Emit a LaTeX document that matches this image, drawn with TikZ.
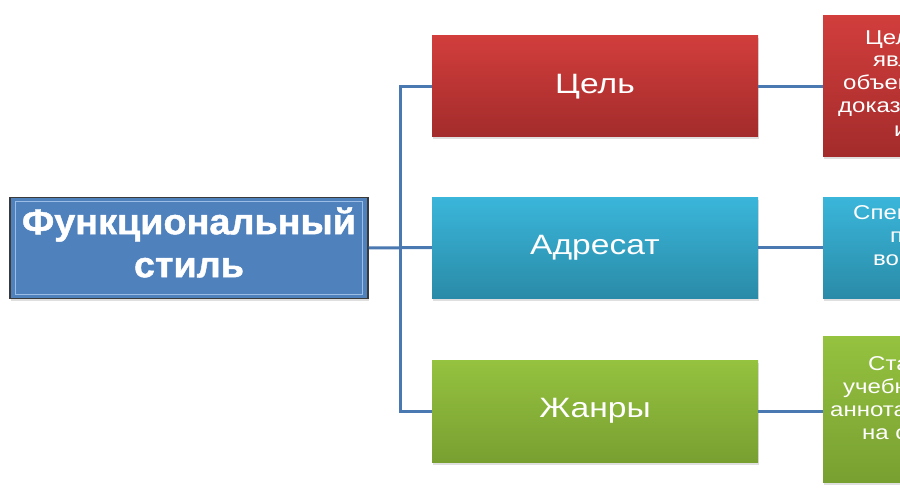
\documentclass[tikz,border=0pt]{standalone}
\usepackage{fontspec}
\setmainfont{Liberation Sans}
\newfontfamily\widefont[FakeStretch=1.2]{Liberation Sans}
\newfontfamily\titlefont[FakeStretch=1.05,FakeBold=1.2]{Liberation Sans Bold}
\usetikzlibrary{shadows,calc}
\definecolor{connblue}{HTML}{4A78B0}
\definecolor{mainfill}{HTML}{4F81BD}
\definecolor{mainedge}{HTML}{3A3A3A}
\definecolor{bevel}{HTML}{9CBDE6}
\definecolor{redtop}{HTML}{D13E3C}
\definecolor{redbot}{HTML}{A32B2B}
\definecolor{cyantop}{HTML}{3AB6DA}
\definecolor{cyanbot}{HTML}{2A8BA8}
\definecolor{greentop}{HTML}{95C23F}
\definecolor{greenbot}{HTML}{78A031}
\tikzset{
  boxshadow/.style={drop shadow={shadow xshift=1pt,shadow yshift=-2.5pt,opacity=0.25}},
  mainbox/.style={rectangle, minimum width=358pt, minimum height=101pt, fill=mainfill,
    draw=mainedge, line width=1.5pt, boxshadow},
  bevelline/.style={draw=bevel, line width=1.4pt},
  maintxt/.style={text=white, align=center, inner sep=0pt,
    font=\titlefont\fontsize{36}{43}\selectfont},
  midbox/.style={rectangle, minimum width=326pt, minimum height=101pt, boxshadow,
    text=white, font=\widefont\fontsize{28}{32}\selectfont},
  sidebox/.style={rectangle, minimum width=160pt, boxshadow},
  redbox/.style={top color=redtop, bottom color=redbot},
  cyanbox/.style={top color=cyantop, bottom color=cyanbot},
  greenbox/.style={top color=greentop, bottom color=greenbot},
  sidetxt/.style={anchor=base west, inner sep=0pt, text=white,
    font=\widefont\fontsize{20}{23}\selectfont},
  conn/.style={draw=connblue, line width=3pt},
}
\begin{document}
\begin{tikzpicture}[x=1pt,y=-1pt]
\useasboundingbox (0,0) rectangle (900,500);
\fill[white] (0,0) rectangle (900,500);
\begin{scope}
\clip (0,0) rectangle (900,500);
% trunk coordinate
\coordinate (tj) at (400,0);
% boxes
\node[mainbox] (main) at (189,248) {};
\draw[bevelline] ([shift={(6,5)}]main.north west) rectangle ([shift={(-6,-5)}]main.south east);
\node[maintxt] (maintitle) at (189,242.5) {Функциональный\\стиль};

\node[midbox, redbox] (goal) at (595,86.5) {Цель};
\node[midbox, cyanbox] (addr) at (595,247.5) {Адресат};
\node[midbox, greenbox, minimum height=102pt] (genre) at (595,411) {Жанры};

\node[sidebox, redbox, minimum height=141pt] (r1) at (903,86.5) {};
\node[sidebox, cyanbox, minimum height=101pt] (r2) at (903,247.5) {};
\node[sidebox, greenbox, minimum height=146pt] (r3) at (903,409) {};

% connectors
\draw[conn] (goal.west) -| (tj |- genre.west) -- (genre.west);
\draw[conn] (main.east) -- (addr.west);
\draw[conn] (goal.east) -- (goal.east -| r1.west);
\draw[conn] (addr.east) -- (addr.east -| r2.west);
\draw[conn] (genre.east) -- (genre.east -| r3.west);

% side texts (cut off by the picture edge)
\node[sidetxt] (r1a) at (865,45) {Цель};
\node[sidetxt] (r1b) at (873,67) {явле};
\node[sidetxt] (r1c) at (843,90) {объект};
\node[sidetxt] (r1d) at (838,113) {доказа};
\node[sidetxt] (r1e) at (894,137) {и};

\node[sidetxt] (r2a) at (853,219) {Специ};
\node[sidetxt] (r2b) at (890,242) {по};
\node[sidetxt] (r2c) at (873,265) {восп};

\node[sidetxt] (r3a) at (868,370) {Стат};
\node[sidetxt] (r3b) at (843,393) {учебни};
\node[sidetxt] (r3c) at (830,416) {аннотац};
\node[sidetxt] (r3d) at (862,439) {на ст};
\end{scope}
\end{tikzpicture}
\end{document}
